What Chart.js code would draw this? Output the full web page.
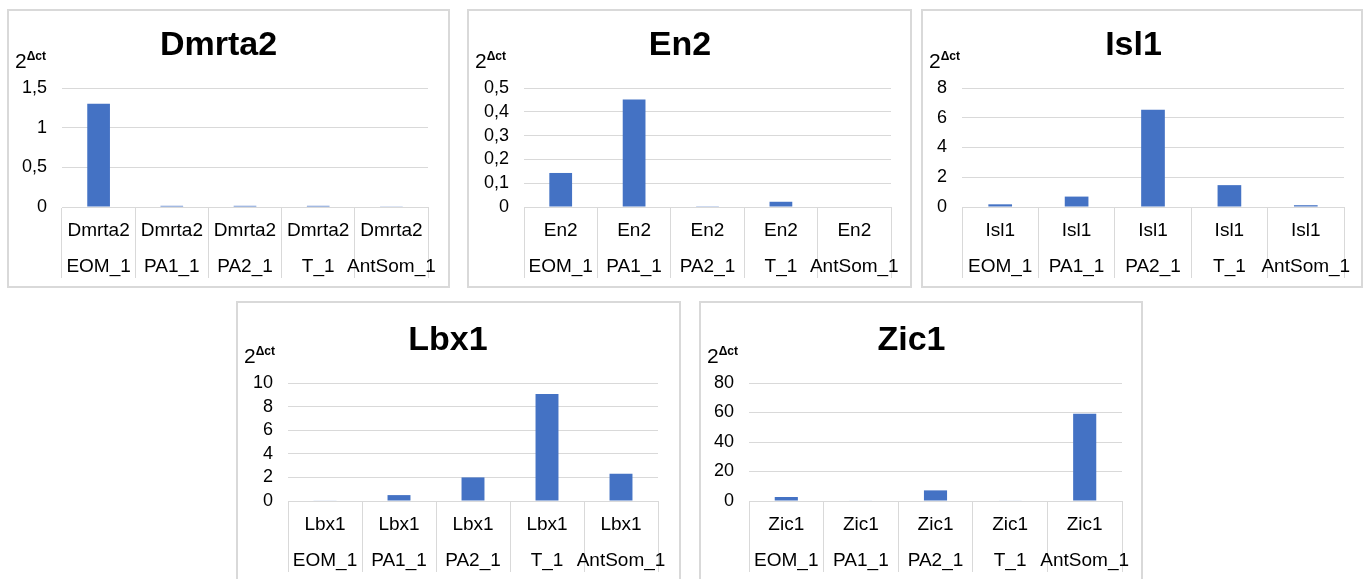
<!DOCTYPE html>
<html lang="en">
<head>
<meta charset="utf-8">
<script src="https://cdn.jsdelivr.net/npm/chart.js"></script>
<style>
  html, body { margin: 0; padding: 0; background: #fff; }
  body { width: 1369px; height: 579px; position: relative; overflow: hidden;
         font-family: 'Liberation Sans', Arial, sans-serif; }
  .panel { position: absolute; box-sizing: border-box; border: 2px solid #d9d9d9; background: #fff; }
  .panel canvas { position: absolute; left: 0; top: 0; }
  .ylab { position: absolute; left: 6px; font-size: 21px; line-height: 20px; color: #000; white-space: nowrap; }
  .ylab sup { font-size: 12px; font-weight: bold; vertical-align: 0; position: relative; top: -8px; }
</style>
</head>
<body>
<script>
// categories
const genes = ['Dmrta2', 'En2', 'Isl1', 'Lbx1', 'Zic1'];
const samples = ['EOM_1', 'PA1_1', 'PA2_1', 'T_1', 'AntSom_1'];

// 2^Δct values per gene, in sample order
const dmrta2 = [1.30, 0.015, 0.015, 0.015, 0.004];
const en2 = [0.143, 0.452, 0.001, 0.022, 0.002];
const isl1 = [0.18, 0.70, 6.53, 1.47, 0.12];
const lbx1 = [0.05, 0.50, 2.00, 9.07, 2.31];
const zic1 = [2.7, 0.3, 7.2, 0.3, 59.2];

// y axis ticks
const yMax = [1.5, 0.5, 8, 10, 80];
const yStep = [0.5, 0.1, 2, 2, 20];

const series = [dmrta2, en2, isl1, lbx1, zic1];

// panel boxes on the page (outer border), plot edges relative to them
const panels = [
  { left: 7,   top: 9,   width: 443, height: 279, plotLeft: 55, plotRight: 22, gridTop: 79, zero: 198, labelBottom: 269, titleTop: 14 },
  { left: 467, top: 9,   width: 445, height: 279, plotLeft: 57, plotRight: 21, gridTop: 79, zero: 198, labelBottom: 269, titleTop: 14 },
  { left: 921, top: 9,   width: 442, height: 279, plotLeft: 41, plotRight: 19, gridTop: 79, zero: 198, labelBottom: 269, titleTop: 14 },
  { left: 236, top: 301, width: 445, height: 290, plotLeft: 52, plotRight: 23, gridTop: 82, zero: 200, labelBottom: 271, titleTop: 17 },
  { left: 699, top: 301, width: 444, height: 290, plotLeft: 50, plotRight: 21, gridTop: 82, zero: 200, labelBottom: 271, titleTop: 17 }
];

const B = 2; // border width
const FONT = "'Liberation Sans', Arial, sans-serif";
const fmt = v => String(Number(v.toFixed(2))).replace('.', ',');

genes.forEach((gene, i) => {
  const p = panels[i];
  const div = document.createElement('div');
  div.className = 'panel';
  div.style.left = p.left + 'px';
  div.style.top = p.top + 'px';
  div.style.width = p.width + 'px';
  div.style.height = p.height + 'px';
  const w = p.width - 2 * B, h = p.height - 2 * B;
  const canvas = document.createElement('canvas');
  canvas.width = w; canvas.height = h;
  canvas.style.width = w + 'px'; canvas.style.height = h + 'px';
  div.appendChild(canvas);
  const lab = document.createElement('div');
  lab.className = 'ylab';
  lab.style.top = (p.gridTop - 39) + 'px';
  lab.innerHTML = '2<sup>\u0394ct</sup>';
  div.appendChild(lab);
  document.body.appendChild(div);

  const titleH = 34 * 1.2;
  const axisH = p.labelBottom - p.zero;
  new Chart(canvas.getContext('2d'), {
    type: 'bar',
    data: {
      labels: samples.map(s => [gene, s]),
      datasets: [{
        data: series[i],
        backgroundColor: '#4472C4',
        borderWidth: 0,
        barPercentage: 1,
        categoryPercentage: 0.31
      }]
    },
    options: {
      responsive: false,
      animation: false,
      layout: { padding: { left: 0, right: p.plotRight - B, top: 0, bottom: h - (p.zero - B) - axisH } },
      plugins: {
        legend: { display: false },
        tooltip: { enabled: false },
        title: {
          display: true,
          text: gene,
          color: '#000',
          font: { family: FONT, size: 34, weight: 'bold', lineHeight: 1.2 },
          padding: { top: p.titleTop, bottom: (p.gridTop - B) - p.titleTop - titleH }
        }
      },
      scales: {
        x: {
          grid: { display: true, drawOnChartArea: false, drawTicks: true, tickLength: axisH, color: '#d9d9d9', lineWidth: 1 },
          border: { display: true, color: '#d9d9d9', width: 1 },
          ticks: { color: '#000', font: { family: FONT, size: 19, lineHeight: 1.9 }, padding: 6 - axisH, maxRotation: 0, autoSkip: false },
          afterFit: s => { s.height = axisH; }
        },
        y: {
          min: 0,
          max: yMax[i],
          grid: { color: '#d9d9d9', lineWidth: 1, drawTicks: false },
          border: { display: false },
          ticks: { stepSize: yStep[i], autoSkip: false, color: '#000', font: { family: FONT, size: 18 }, padding: 15, callback: fmt },
          afterFit: s => { s.width = p.plotLeft - B; }
        }
      }
    }
  });
});
</script>
</body>
</html>
